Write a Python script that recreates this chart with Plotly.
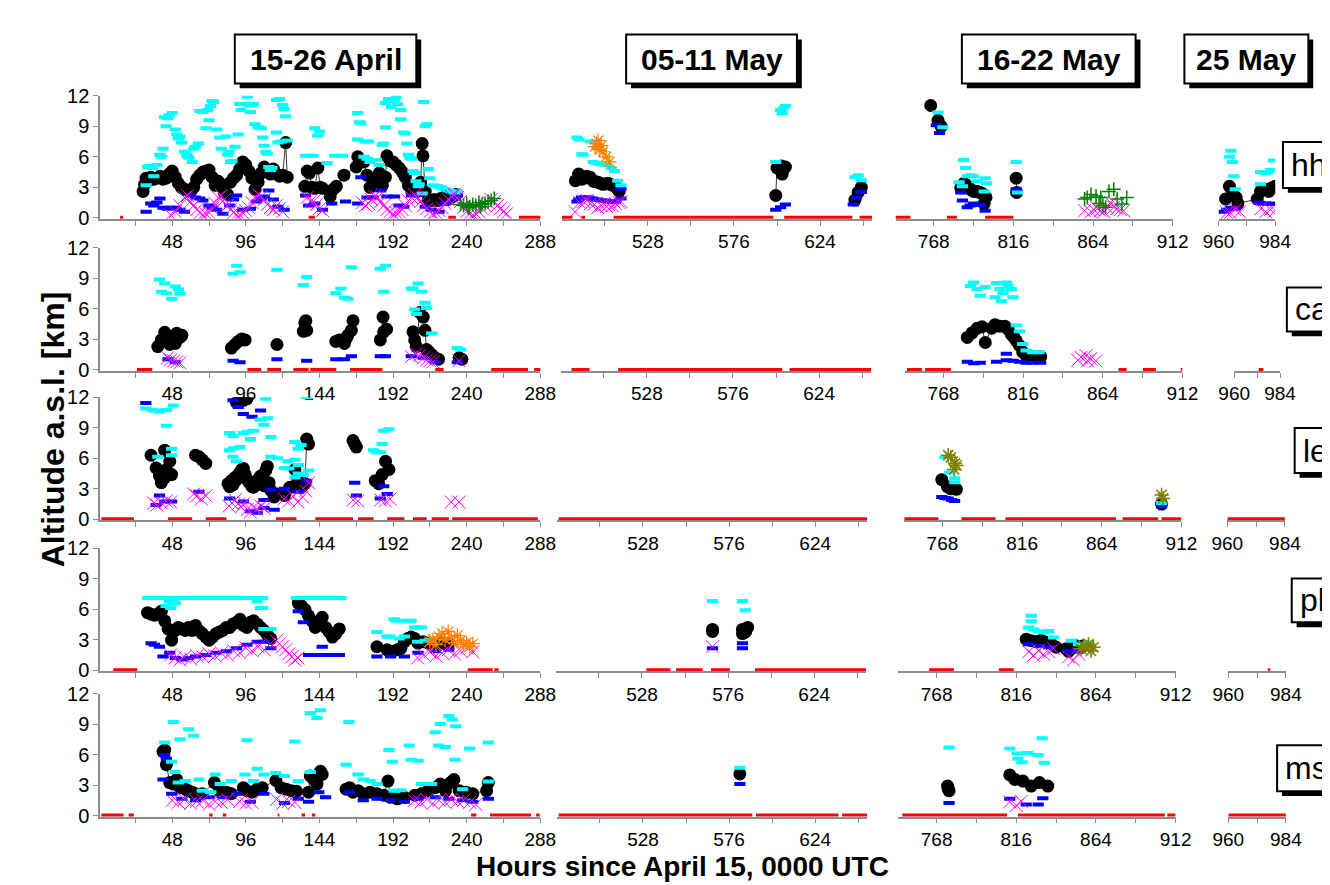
import plotly.graph_objects as go

W, H = 1330, 885
FONT = "Liberation Sans, Arial, sans-serif"

# ---------------- tick labels / ranges ----------------
COL_RANGES = [[1, 288], [480, 653], [745, 912], [960, 984]]
COL_TICKS = [
    [24, 48, 72, 96, 120, 144, 168, 192, 216, 240, 264, 288],
    [504, 528, 552, 576, 600, 624, 648],
    [768, 792, 816, 840, 864, 888, 912],
    [960, 972, 984],
]
COL_TICKTEXT = [
    ["", "48", "", "96", "", "144", "", "192", "", "240", "", "288"],
    ["", "528", "", "576", "", "624", ""],
    ["768", "", "816", "", "864", "", "912"],
    ["960", "", "984"],
]
Y_TICKS = [0, 3, 6, 9, 12]
PERIODS = ["15-26 April", "05-11 May", "16-22 May", "25 May"]
STATIONS = ["hh", "ca", "le", "pl", "ms"]

# ---------------- data: (hour, km) ----------------
# hh
hh_apr_black = [(29,2.6),(30,3.3),(31,3.9),(32,3.6),(34,4.0),(36,3.8),(38,3.9),(40,4.1),(42,3.8),(44,3.9),(46,4.3),(48,4.6),(50,4.0),(52,3.4),(54,3.0),(56,2.8),(58,2.7),(60,2.6),(62,3.0),(64,3.8),(66,4.2),(68,4.5),(70,4.6),(72,4.7),(74,4.0),(76,3.2),(78,3.6),(80,3.3),(82,2.5),(84,2.3),(86,3.5),(88,3.9),(90,4.2),(92,4.8),(94,5.5),(96,5.2),(98,4.6),(100,3.9),(102,2.8),(104,3.5),(106,4.4),(108,5.0),(110,4.6),(112,4.3),(114,4.8),(116,4.3),(118,4.1),(120,4.2),(122,7.4),(123,4.0),
                (134.5,3.1),(136,4.6),(137.5,4.4),(139,3.0),(141,2.9),(143,4.9),(144.5,3.0),(146,2.9),(151,2.1),(153,2.8),(155,3.1),(160,4.2),(168,5.0),(169,6.0),(171,5.6),(173,5.5),(175,4.2),(177,3.0),(179,3.5),(181,3.8),(183,4.4),(185,3.2),(187,4.0),(188,6.1),(190,5.6),(192,5.5),(194,5.2),(196,4.9),(198,4.5),(200,4.0),(202,3.2),(204,2.7),(206,2.9),(208,2.6),(210,3.5),(211,7.3),(211.5,6.1),(213,2.6),(215,1.8),(217,1.7),(219,1.8),(221,1.7),(223,1.9),(225,2.0),(227,1.8),(229,1.9),(231,2.1),(233,2.3)]
hh_apr_cyan = [(31,3.2),(32,5.0),(33,5.1),(35,4.9),(36,4.1),(38,5.2),(40,6.2),(41,6.0),(42,6.8),(43,9.9),(44,9.0),(45,9.8),(46,10.1),(48,10.3),(50,8.7),(51,8.2),(52,7.8),(53,8.0),(54,7.4),(56,6.5),(57.5,6.2),(58,6.0),(59,5.9),(61,5.5),(62,6.8),(63,7.0),(65,7.3),(66,10.5),(68,10.4),(70,8.8),(71,10.6),(72,9.6),(73,11.0),(74,11.5),(75,11.4),(77,8.7),(79,7.9),(80,6.8),(83,8.0),(84,6.2),(85,6.5),(86,5.5),(87,5.6),(89,7.0),(91,8.2),(92,11.2),(93,10.6),(94,11.2),(97,11.9),(98,11.1),(99,10.4),(100,11.1),(101,11.2),(102,9.2),(104,8.9),(106,8.8),(107,7.9),(108,7.1),(109,6.5),(110,6.3),(111,5.0),(112,4.7),(113,4.9),(116,8.4),(116,11.6),(117,7.4),(118,11.7),(119,7.5),(120,11.1),(121,10.7),(122,10.0),(123,7.6),
               (135,6.1),(138,6.1),(140,6.1),(141,8.8),(143,8.1),(144,8.5),(149,5.4),(154,6.1),(159,6.1),(169,10.3),(169,7.7),(170,9.4),(171,9.3),(173,6.0),(174,7.5),(175,5.8),(176,7.5),(177,5.5),(181,5.7),(183,5.2),(185,7.2),(186,7.3),(187,8.9),(187,11.3),(189,11.7),(190,11.5),(191,10.9),(193,11.7),(194,11.9),(195,11.2),(197,10.6),(197,9.7),(199,8.4),(200,8.3),(201,7.3),(202,6.2),(203,5.9),(204,5.8),(205,4.6),(206,4.4),(207,3.6),(208.5,3.1),(209,3.3),(211,2.4),(212,11.4),(213,9.0),(214,9.2),(215,4.8),(216,3.9),(218,3.2),(219.5,3.1),(221,3.1),(223,3.0),(224,2.9),(226,2.8),(228,2.7),(230,2.6),(232,2.5),(234,2.6)]
hh_apr_blue = [(31,0.6),(34,1.4),(36,1.2),(38,1.5),(40,1.9),(42,1.0),(45,0.9),(47,1.0),(50,1.0),(53,0.8),(56,0.6),(60,2.2),(63,2.0),(66,1.9),(68,1.7),(72,1.2),(74,1.0),(77,0.8),(81,0.4),(85.5,1.2),(88,1.8),(90,2.2),(94,0.8),(99,0.9),(103,1.6),(106,1.9),(108,2.1),(111,2.7),(114,1.8),(117,1.1),(121,0.8),(135,2.2),(137,1.2),(141,1.4),(146,0.8),(152,1.4),(161,1.6),(169,1.4),(171,4.0),(175,2.0),(179,2.0),(184,2.7),(188,2.1),(193,2.1),(196,1.2),(199,1.1),(204,2.2),(208,2.3),(213,1.1),(217,0.8),(222,0.6),(226,1.4),(231,1.9),(234,2.2)]
hh_apr_mag = [(47,0.3),(50,0.6),(53,1.2),(56,2.0),(58,2.2),(60,1.6),(62,1.2),(64,0.8),(66,0.5),(68,0.3),(70,0.4),(72,0.5),(74,0.9),(76,1.4),(78,2.0),(80,2.2),(82,1.8),(84,1.2),(86,0.8),(88,0.5),(90,0.3),(92,0.3),(94,0.5),(96,0.7),(98,1.0),(100,1.5),(102,2.0),(104,2.3),(106,2.1),(108,1.8),(110,1.3),(112,1.0),(114,0.8),(116,1.2),(118,0.9),(120,0.6),(136,2.0),(138,1.6),(140,1.6),(142,1.3),(144,0.9),(146,0.7),(172,1.5),(174,1.2),(176,1.4),(178,1.8),(180,2.1),(182,2.0),(184,1.6),(186,1.2),(188,0.8),(190,0.6),(192,0.4),(194,0.5),(196,0.6),(198,0.8),(200,1.2),(202,1.7),(204,2.0),(206,2.3),(208,2.0),(210,1.6),(212,1.2),(214,0.9),(216,0.6),(218,0.4),(220,0.5),(222,0.7),(224,1.0),(226,1.4),(228,1.8),(230,2.1),(232,2.3),(234,2.0),(236,1.6),(238,1.0),(240,0.6),(242,0.4),(244,0.3),(246,0.4),(248,0.6),(250,0.9),(252,1.2),(254,1.5),(256,1.8),(258,1.6),(260,1.2),(262,0.9),(264,0.6),(266,0.4)]
hh_apr_green = [(236,1.3),(238,1.2),(240,1.4),(241,1.0),(242,1.1),(244,1.3),(246,1.2),(248,1.5),(249,1.1),(250,1.3),(252,1.4),(254,1.6),(256,1.7),(258,1.9)]
hh_apr_nodata = [(14,16),(137,141),(228,233),(274,289)]

hh_may1_black = [(487.6,3.65),(489.4,4.3),(491.2,3.8),(492.5,3.9),(494,4.1),(495.8,4.0),(497.6,3.6),(499,3.55),(500.3,3.5),(501.5,3.4),(503,3.3),(504.5,3.35),(505.8,3.4),(507,3.3),(508.5,3.2),(510.3,3.0),(512,2.6),(599.3,2.2),(600,4.9),(602.5,5.1),(602.9,4.3),(604.7,5.0),(643.4,1.75),(645.2,2.5),(647,3.0)]
hh_may1_cyan = [(488.5,7.9),(489.5,7.7),(495.8,7.5),(491.2,6.25),(492,6.2),(497.6,5.5),(499,5.4),(501.2,5.3),(504.8,5.2),(507.6,4.9),(509.4,4.6),(511.2,3.65),(513,3.2),(599.3,5.5),(602,10.6),(602.9,10.3),(603.8,10.8),(604.7,11.0),(643.4,4.0),(645.2,4.2),(647,3.7)]
hh_may1_blue = [(488.5,1.6),(489.5,1.8),(491,2.0),(493,2.0),(495,2.0),(497,1.9),(498,1.8),(500,1.8),(502,1.7),(504,1.7),(506,1.6),(508,1.6),(510,1.6),(513,1.9),(513,2.85),(599.3,0.8),(602,1.05),(604.7,1.3),(642.5,1.3),(644.3,2.0),(647,2.55)]
hh_may1_mag = [(487.5,0.6),(490,1.5),(492,1.6),(494,1.7),(496,1.4),(498,1.3),(500,1.0),(502,1.2),(504,1.3),(505,1.1),(506,1.3),(508,1.2),(510,1.4),(512,1.5),(513,1.6)]
hh_may1_orange = [(498.5,7.0),(499.4,7.3),(500.3,7.6),(501.2,6.7),(502,7.1),(503,6.5),(504.8,6.0),(506.6,5.5)]
hh_may1_nodata = [(480,486),(491,493),(509,598),(604,642),(646,653)]

hh_may2_black = [(766.2,11.05),(770.6,9.6),(772.5,9.0),(784.3,2.95),(785.5,3.2),(786.2,3.4),(787.2,3.3),(788.2,3.1),(789.2,3.0),(790.2,2.8),(791.2,2.7),(792.1,2.6),(793.1,2.6),(794.1,2.6),(795,2.55),(796,2.5),(797,2.4),(798,2.3),(799.5,2.0),(798.4,1.4),(817.7,3.9),(818,2.5)]
hh_may2_cyan = [(770.6,10.35),(773.5,8.9),(783.3,3.5),(785.3,3.1),(786,5.7),(787.3,4.9),(788.2,4.1),(790,4.2),(792,4.1),(794,3.6),(799,3.9),(799.9,3.4),(798.4,2.6),(817.7,5.5),(818.5,2.5)]
hh_may2_blue = [(769.6,9.1),(771.5,8.35),(784.3,2.5),(785.3,1.7),(788.2,1.05),(790,1.2),(792,1.4),(794,1.3),(796,1.25),(799,0.7),(817.7,2.8)]
hh_may2_mag = [(858.9,0.7),(862.8,0.6),(864.5,0.8),(866.7,0.9),(868.5,0.7),(870.6,0.6),(872.5,1.0),(874.5,1.5),(876.5,1.05),(878.5,0.9),(880.5,0.8),(882.4,0.7)]
hh_may2_green = [(858.9,1.85),(860.5,2.0),(862.8,2.3),(865.8,2.15),(867.7,1.4),(868.7,2.0),(870,1.2),(871.6,1.05),(873.6,2.6),(876.5,2.8),(878.5,1.85),(881.4,1.35),(884.3,2.0)]
hh_may2_nodata = [(745,754),(776,782),(799,816)]

hh_may3_black = [(963.0,1.85),(964.6,3.1),(966,2.3),(967.5,2.0),(968.2,1.4),(976.4,1.85),(977.8,2.6),(979.9,2.8),(981.3,2.6),(982.6,2.95),(984,3.1)]
hh_may3_cyan = [(964.6,6.0),(965.2,6.6),(965.8,5.5),(966.5,4.1),(967.1,2.8),(977.8,3.3),(977.8,4.5),(979.9,4.4),(981,4.5),(982,4.7),(983.3,5.65)]
hh_may3_blue = [(962.3,0.6),(963.5,0.8),(965.2,1.0),(967.1,0.9),(977,1.5),(978.5,1.4),(979.9,1.4),(981.5,1.35),(983.3,1.4)]
hh_may3_mag = [(963.5,0.5),(965,0.5),(967,0.8),(969,0.6),(978,0.9),(980,0.6),(982,0.8),(984,0.7)]

# ca
ca_apr_black = [(38.6,2.3),(40.9,2.95),(43.1,3.7),(45.3,3.2),(46.4,2.5),(48.7,3.1),(50,2.6),(50.9,3.6),(53.1,3.2),(54.3,3.4),(86.6,2.15),(88.9,2.5),(91.1,2.8),(93.3,3.05),(95.6,2.95),(116.3,2.5),(133.5,3.8),(134.5,4.6),(135.1,4.85),(135.7,3.9),(154.7,2.8),(157,2.95),(160.3,2.6),(161.5,3.1),(162.5,3.4),(164.8,3.9),(165.9,4.85),(183.7,2.95),(185.5,5.2),(185.9,3.75),(187.8,4.0),(205,3.75),(206.1,2.95),(207.2,2.3),(209.4,5.65),(211.7,5.2),(212.8,3.9),(213.9,2.0),(215,1.85),(217.2,1.5),(219.5,1.2),(221.7,1.05),(235.1,1.2),(236.9,1.05)]
ca_apr_cyan = [(39.7,8.9),(41,7.7),(43.1,8.5),(44.2,7.55),(47.6,7.0),(50,8.2),(52,7.9),(53.1,7.5),(87.7,9.45),(90,10.25),(92.2,9.6),(116.3,9.85),(133.5,8.35),(135.7,9.15),(154.7,7.55),(158,8.0),(160.3,7.1),(162.5,7.0),(164.8,10.1),(183.7,9.95),(185.9,7.7),(187,10.25),(203.9,8.0),(205,8.0),(206.1,5.95),(207.2,5.5),(208.3,8.5),(210.6,7.7),(212.8,6.6),(213.9,6.1),(217.2,3.6),(233.9,2.15),(236.2,2.0)]
ca_apr_blue = [(45.3,1.05),(50,0.75),(87.7,0.9),(92.2,0.75),(116.3,1.05),(135.7,0.9),(154.7,1.05),(160.3,1.05),(164.8,1.35),(183.7,1.35),(187,1.35),(203.9,1.35),(211.7,1.2),(219.5,0.75),(233.9,0.75)]
ca_apr_mag = [(45,1.2),(47,1.0),(49,0.9),(51,0.8),(53,0.7),(204,1.3),(207,1.6),(209,1.4),(212,1.2),(214,1.0),(216,0.9),(218,0.8),(235,0.9)]
ca_apr_nodata = [(25,35),(97,106),(110,119),(127,137),(138,155),(164,185),(219.5,225),(256,280),(284,289)]
ca_may1_nodata = [(486,496),(512,603.4),(607.5,653)]
ca_may2_black = [(782.4,3.2),(785.3,3.65),(788.3,4.1),(791.2,4.25),(793.2,2.7),(797.1,4.1),(799.1,4.45),(802,4.3),(805,4.3),(806.9,4.0),(808.9,3.5),(810.5,3.2),(811.9,2.85),(813.8,2.4),(815.8,1.75),(817.8,1.45),(819.7,1.3),(821.7,1.3),(826.6,1.3)]
ca_may2_cyan = [(784.3,8.25),(786.2,8.6),(788.2,7.95),(790.2,7.3),(793.1,8.15),(799.1,7.15),(800,8.55),(802,7.95),(802.9,6.75),(803.9,7.55),(806,8.6),(806.9,8.25),(808.9,7.95),(809.9,7.15),(811.9,4.4),(813.8,3.8),(815.8,2.55),(817.8,1.9),(821.7,1.75),(825.6,1.75)]
ca_may2_blue = [(782.4,0.8),(786.3,0.65),(790.2,0.7),(800,0.8),(805.9,1.6),(805.9,0.95),(809.9,0.9),(813.8,0.8),(817.8,0.7),(821.7,0.7),(826.6,0.7)]
ca_may2_mag = [(848.9,0.95),(850.9,1.25),(853.9,1.4),(854.8,0.9),(856.8,1.1),(859.8,0.9)]
ca_may2_nodata = [(746,755),(757,772.5),(873.5,878.4),(888.2,896),(911,912)]
ca_may3_nodata = [(972.8,975.3)]

# le
le_apr_black = [(34.2,6.3),(37.5,5.05),(39.7,4.25),(40.9,3.6),(43.1,4.1),(43.1,6.8),(44.2,4.9),(46.4,5.7),(47.6,4.4),(63.2,6.3),(65.4,6.15),(67.6,5.85),(69.9,5.5),(84.4,3.5),(85.5,3.2),(86.6,3.8),(87.7,3.4),(88.9,4.1),(90,3.9),(91.1,4.4),(92.2,4.6),(93.3,4.9),(94.4,5.0),(95.6,4.4),(96.7,3.95),(97.8,3.7),(99,3.5),(100,3.2),(101.1,3.15),(102.3,3.5),(103.4,3.8),(104.5,4.0),(105.6,4.25),(106.7,3.8),(107.8,3.3),(109,4.8),(110,5.2),(111.2,3.6),(112.3,2.85),(114.5,2.2),(116.8,2.5),(121.2,2.35),(124.6,3.15),(128,4.9),(130.2,3.8),(132.4,3.15),(134.6,3.5),(135.7,7.9),(136.9,7.4),(165.9,7.75),(167,7.4),(168.1,7.1),(180.4,3.8),(182.6,3.5),(184.9,4.4),(187.1,5.7),(189.3,4.9)]
le_apr_black_top = [(89.9,11.5),(92,11.6),(94.4,11.7),(96.7,11.85)]
le_apr_cyan = [(30.8,10.9),(35.3,10.75),(37,10.7),(39.7,10.6),(44.2,10.75),(48.7,11.2),(44.2,9.2),(38.6,6.15),(47.6,6.95),(47.6,6.3),(85.5,8.5),(87.7,8.2),(94.4,8.5),(97,8.6),(101.1,8.7),(99,7.9),(105.6,9.8),(110,9.95),(107.8,9.3),(109,11.85),(112.3,8.1),(85.5,6.8),(88,7.0),(92.2,7.1),(87.7,6.15),(89.9,5.7),(112.3,6.15),(116.8,6.0),(123.5,5.7),(128,5.85),(130.2,5.35),(121.2,5.05),(124,5.0),(128,4.1),(130.2,4.5),(133.5,4.35),(136.9,4.8),(135.7,12.0),(128,7.6),(130.2,6.95),(132,7.3),(179.3,6.8),(181,6.6),(183.7,6.6),(185.9,8.7),(189.3,8.85),(184.9,7.4)]
le_apr_blue = [(30.8,11.45),(37.5,1.4),(39.7,2.35),(43.1,1.75),(47.6,1.75),(65.4,2.7),(85.5,2.05),(87.7,11.7),(91.1,11.05),(94.4,10.35),(94.4,1.75),(99,0.8),(100,10.1),(103.4,0.65),(105.6,10.7),(107.8,1.1),(107.8,1.9),(112.3,2.9),(114.5,0.95),(121.2,3.0),(130.2,2.7),(135.7,3.8),(167,3.6),(168.1,2.35),(183.7,2.05),(185.9,3.25),(188.2,2.5)]
le_apr_mag = [(36,1.6),(38,1.4),(41,1.6),(44,1.8),(47,1.7),(62,2.5),(64,2.3),(67,2.0),(70,2.3),(85,1.3),(87,1.6),(89,1.9),(91,1.5),(93,1.2),(95,1.6),(97,1.0),(99,0.7),(101,1.2),(103,1.0),(106,1.3),(108,1.1),(121,2.0),(124,1.8),(127,2.3),(130,1.7),(133,2.2),(135,2.8),(137,3.6),(166,1.9),(169,1.8),(184,1.9),(187,1.8),(190,2.0),(230,1.7),(235,1.7)]
le_apr_nodata = [(1.8,23),(45.3,61),(69.9,83.3),(115.6,129),(141.3,165.9),(169.2,179.3),(188.2,199.4),(205,213.9),(217.2,228.4),(230.6,286.4)]
le_may1_nodata = [(481,653)]
le_may2_black = [(767.6,3.9),(771,3.2),(773.1,3.0),(776.4,2.95),(900,1.5)]
le_may2_cyan = [(769.5,6.1),(772.4,4.6),(775.4,4.05),(775.4,3.65),(900,1.6)]
le_may2_blue = [(767.6,2.2),(769.5,2.1),(771.5,2.05),(773.5,1.9),(775.3,1.8),(900,1.25)]
le_may2_olive = [(771.5,6.3),(773,6.1),(775.5,5.5),(775,4.9),(776.5,5.3),(900,2.4),(900.9,2.05)]
le_may2_nodata = [(745,765.6),(779.4,800),(805.9,872.5),(876.5,898),(900,912)]
le_may3_nodata = [(960,984)]

# pl
pl_apr_black = [(31.9,5.65),(34.2,5.5),(36.4,5.4),(38.6,5.5),(40.9,5.8),(43.1,4.85),(45.3,4.05),(47.6,2.95),(50,3.9),(52,4.2),(54.3,4.05),(56.5,3.9),(58.7,4.2),(60.9,3.9),(63.2,4.4),(65.4,3.9),(67.6,3.6),(69.9,3.25),(72.1,2.95),(74.3,3.25),(76.6,3.6),(78.8,3.75),(81,3.9),(83.3,4.2),(85.5,4.2),(87.7,4.55),(89.9,4.7),(92.2,5.0),(94.4,4.4),(96.7,4.2),(99,4.7),(101.1,4.85),(103.4,4.55),(105.6,4.2),(107.8,3.9),(110.1,3.45),(112.3,3.1),
                (130.2,6.6),(132.4,6.3),(134.6,5.95),(136.9,5.35),(139.1,4.85),(141.3,4.2),(143.6,4.55),(145.8,5.2),(148,4.2),(150.3,3.75),(152.5,3.25),(154.7,3.6),(157,4.05),
                (181.5,2.3),(188.2,2.0),(191.5,1.85),(194.9,2.0),(197.1,2.15),(199.4,2.8),(201.6,3.1),(203.8,3.25),(206.1,3.1),(208.3,2.65),(211.7,2.8),(215,2.65),(219.5,2.5),(223.9,2.65),(228.4,2.55)]
pl_apr_cyan = [(32,7.1),(35,7.1),(38,7.1),(41,7.1),(44,7.1),(47,7.1),(50,7.1),(53,7.1),(56,7.1),(59,7.1),(62,7.1),(65,7.1),(68,7.1),(71,7.1),(74,7.1),(77,7.1),(80,7.1),(83,7.1),(86,7.1),(89,7.1),(92,7.1),(95,7.1),(98,7.1),(101,7.1),(104,7.1),(107,7.1),
               (129,7.1),(132,7.1),(135,7.1),(138,7.1),(141,7.1),(144,7.1),(147,7.1),(150,7.1),(153,7.1),(156,7.1),(158,7.1),
               (46,6.75),(48.7,6.75),(44,6.3),(47,6.1),(50,6.6),(103.4,6.75),(105.5,6.1),(107,6.1),(107.8,4.05),(110,4.05),(112.3,4.05),(181.5,3.75),(188,3.3),(190,3.3),(192.7,5.0),(194,4.85),(196,3.1),(199.4,3.3),(201,4.85),(203.8,4.85),(206,4.2),(208,4.2),(210.5,4.2),(208,2.8),(213,2.9),(216,3.0)]
pl_apr_blue = [(34.2,2.65),(36.4,2.5),(39.7,2.3),(42,1.35),(46.4,1.7),(50,1.2),(54.3,1.05),(58.7,1.2),(63.2,1.35),(69.9,1.5),(76.6,1.7),(83.3,1.85),(89.9,2.15),(96.7,2.5),(103.4,2.8),(107.8,2.8),(112.3,2.15),(130.2,5.8),(133.5,4.7),(136.9,1.5),(141.3,1.5),(145.8,2.3),(148,1.5),(152.5,1.5),(157,1.5),(181.5,1.35),(190.4,1.35),(199.4,1.35),(208.3,1.7),(219.5,1.85),(228.4,2.0)]
pl_apr_mag = [(47,1.5),(50,1.2),(53,1.0),(56,1.3),(60,1.1),(64,1.4),(68,1.3),(72,1.6),(76,1.4),(80,1.7),(84,1.5),(88,1.9),(92,1.7),(96,2.2),(100,1.9),(104,2.3),(108,2.0),(112,2.6),(116,2.9),(118,2.6),(120,2.3),(122,2.0),(124,1.6),(126,1.3),(128,1.0),(130,1.2),(208,1.2),(212,1.5),(216,1.8),(220,1.4),(224,1.7),(228,2.0),(232,1.6),(236,1.9),(240,2.2),(244,1.8)]
pl_apr_orange = [(216,2.8),(218,3.0),(220,2.5),(222,3.3),(224,3.6),(226,3.0),(228,3.8),(230,3.2),(232,2.7),(234,3.4),(236,2.9),(238,2.5),(240,2.7),(242,2.3),(244,2.6)]
pl_apr_nodata = [(9.6,25.2),(240.7,257),(258,260.8)]
pl_may1_black = [(567.3,4.0),(567.3,3.8),(584,4.0),(585.8,3.75),(586.9,4.2),(584,3.6)]
pl_may1_cyan = [(567.3,6.8),(584,6.8),(585.5,5.9)]
pl_may1_blue = [(567.3,2.15),(584,2.65),(584,2.15)]
pl_may1_mag = [(567.3,2.3)]
pl_may1_nodata = [(530.4,543.8),(547,561.8),(566.5,577),(591,653)]
pl_may2_black = [(822,3.05),(825,2.9),(828,2.8),(831,2.95),(834,2.75),(837,2.6),(840,2.25),(846,2.1),(847.5,1.85),(849,2.25),(852,2.4),(856.5,2.4)]
pl_may2_cyan = [(825,5.35),(825,4.8),(823.5,4.2),(826.5,4.0),(829.5,3.8),(832.5,3.7),(835.5,3.85),(838.5,3.2),(849,2.9),(853.5,2.55),(859.5,2.75)]
pl_may2_blue = [(823.5,2.55),(829.5,2.4),(835.5,2.25),(847.5,1.9),(853.5,1.8)]
pl_may2_mag = [(823.5,1.8),(826.5,1.45),(829.5,1.9),(832.5,1.55),(835.5,1.8),(838.5,2.1),(847.5,1.3),(850.5,1.0),(853.5,1.6),(858,2.1)]
pl_may2_olive = [(855,2.1),(856.5,2.4),(859.5,2.55),(861,1.9),(862.5,2.25)]
pl_may2_nodata = [(763.5,778.5),(805.5,814.5)]
pl_may3_nodata = [(976.5,977.5)]

# ms
ms_apr_black = [(42,6.3),(43.1,6.45),(44.2,5.0),(46.4,3.25),(48.7,3.1),(50.9,3.55),(53.1,2.75),(56.5,2.6),(58.7,2.45),(61,2.3),(63.2,2.15),(67.6,2.15),(75.5,3.25),(78.8,2.45),(83.3,2.3),(86.6,2.15),(94.4,2.75),(96.7,2.45),(100,2.3),(103.4,2.6),(106.7,2.75),(115.6,3.45),(119,2.75),(122.3,2.6),(125.7,2.45),(129,2.4),(136.9,2.3),(138,3.9),(140.2,3.55),(142.4,3.1),(144.7,4.35),(145.8,4.05),
                (161.4,2.6),(163.7,2.75),(165.9,2.3),(169.2,2.45),(172.6,2.15),(177,2.3),(181.5,2.15),(186,2.0),(188.7,3.4),(190.4,1.8),(194.9,1.65),(199.4,1.8),(206.1,2.0),(210.5,2.15),(215,2.45),(219.5,2.75),(222.8,3.1),(226.2,2.45),(229.5,3.25),(231.7,3.55),(235.1,2.45),(239.6,2.3),(244,2.15),(253,2.45),(254.1,3.25)]
ms_apr_cyan = [(43.1,7.2),(48.7,9.2),(47.6,5.3),(49.8,4.3),(53.1,7.5),(58.7,8.5),(62,7.85),(52,3.25),(56.5,3.4),(65.4,3.55),(67.6,2.45),(73.2,2.3),(76.1,4.05),(79.3,3.1),(86.6,3.4),(96.7,7.4),(95.5,4.05),(101.1,3.4),(103.4,4.6),(107.8,4.05),(115.6,4.2),(121.2,3.9),(128,7.3),(130.2,3.4),(138,10.1),(142.4,9.6),(144.7,10.35),(138,4.3),(161.4,5.0),(163.2,9.2),(169.2,4.05),(172.6,3.55),(177,3.4),(181.5,3.1),(189.3,6.45),(191.5,5.3),(192.7,2.45),(197.1,2.5),(202.6,6.9),(203.8,5.5),(208.3,5.4),(210.5,3.1),(217.2,3.1),(219.5,8.2),(222.8,9.0),(221.7,6.9),(226.2,6.75),(228.4,9.8),(230.6,9.45),(232.9,8.8),(232.4,5.5),(237.4,2.6),(241.9,6.6),(254.1,7.2),(254.1,3.35)]
ms_apr_blue = [(42,3.55),(43.1,5.95),(44.2,5.6),(47.6,2.15),(54.3,1.65),(63.2,1.5),(72.1,1.8),(81,1.8),(89.9,2.15),(98.9,1.35),(107.8,2.15),(121.2,1.25),(130.2,1.65),(136.9,1.35),(143.6,2.3),(148,1.8),(163.7,2.3),(172.6,1.5),(181.5,1.65),(190.4,1.5),(199.4,1.35),(208.3,1.65),(219.5,1.8),(228.4,1.65),(237.4,1.5),(244,1.35),(254.1,1.65)]
ms_apr_mag = [(48,1.5),(52,1.3),(56,1.6),(60,1.2),(64,1.4),(68,1.5),(72,1.1),(76,1.4),(80,1.3),(84,1.6),(92,1.4),(96,1.2),(100,1.3),(116,1.6),(120,1.2),(124,1.4),(128,1.3),(206,1.5),(210,1.3),(214,1.6),(218,1.2),(222,1.5),(226,1.3),(230,1.6),(234,1.4),(238,1.5),(242,1.3),(246,1.1)]
ms_apr_nodata = [(1.8,16.3),(19.6,23),(72.1,74.3),(81,83.3),(116.8,117.9),(132.4,134.6),(139.1,141.3),(242.9,246.3),(255.2,282),(285.3,287.6)]
ms_may1_black = [(582,4.1)]
ms_may1_cyan = [(582,4.7)]
ms_may1_blue = [(582,3.1)]
ms_may1_nodata = [(481,589),(591,637),(639,653)]
ms_may2_black = [(774.6,2.9),(775.5,2.45),(775,2.6),(812.1,4.0),(815.1,3.55),(820,3.4),(825,2.9),(830,3.25),(835,2.9)]
ms_may2_cyan = [(775.5,6.7),(812.1,6.6),(816.6,6.1),(817,5.6),(819.4,5.25),(823,6.15),(829,5.95),(831.6,7.6),(832.9,5.2)]
ms_may2_blue = [(775.5,1.25),(812.1,1.65),(822,1.1),(829.2,1.1),(832,1.7)]
ms_may2_mag = [(812,1.35),(816,1.0),(819,1.4)]
ms_may2_nodata = [(747.3,810.5),(817,905.5),(907,912)]
ms_may3_nodata = [(960,984)]

# ---------------- panel registry ----------------
PANELS = {
    (0, 0): dict(black=hh_apr_black, blue=hh_apr_blue, cyan=hh_apr_cyan, mag=hh_apr_mag, green=hh_apr_green, nodata=hh_apr_nodata),
    (0, 1): dict(black=hh_may1_black, blue=hh_may1_blue, cyan=hh_may1_cyan, mag=hh_may1_mag, orange=hh_may1_orange, nodata=hh_may1_nodata),
    (0, 2): dict(black=hh_may2_black, blue=hh_may2_blue, cyan=hh_may2_cyan, mag=hh_may2_mag, green=hh_may2_green, nodata=hh_may2_nodata),
    (0, 3): dict(black=hh_may3_black, blue=hh_may3_blue, cyan=hh_may3_cyan, mag=hh_may3_mag),
    (1, 0): dict(black=ca_apr_black, blue=ca_apr_blue, cyan=ca_apr_cyan, mag=ca_apr_mag, nodata=ca_apr_nodata),
    (1, 1): dict(nodata=ca_may1_nodata),
    (1, 2): dict(black=ca_may2_black, blue=ca_may2_blue, cyan=ca_may2_cyan, mag=ca_may2_mag, nodata=ca_may2_nodata),
    (1, 3): dict(nodata=ca_may3_nodata),
    (2, 0): dict(black=le_apr_black, black2=le_apr_black_top, blue=le_apr_blue, cyan=le_apr_cyan, mag=le_apr_mag, nodata=le_apr_nodata),
    (2, 1): dict(nodata=le_may1_nodata),
    (2, 2): dict(black=le_may2_black, blue=le_may2_blue, cyan=le_may2_cyan, olive=le_may2_olive, nodata=le_may2_nodata),
    (2, 3): dict(nodata=le_may3_nodata),
    (3, 0): dict(black=pl_apr_black, blue=pl_apr_blue, cyan=pl_apr_cyan, mag=pl_apr_mag, orange=pl_apr_orange, nodata=pl_apr_nodata),
    (3, 1): dict(black=pl_may1_black, blue=pl_may1_blue, cyan=pl_may1_cyan, mag=pl_may1_mag, nodata=pl_may1_nodata),
    (3, 2): dict(black=pl_may2_black, blue=pl_may2_blue, cyan=pl_may2_cyan, mag=pl_may2_mag, olive=pl_may2_olive, nodata=pl_may2_nodata),
    (3, 3): dict(nodata=pl_may3_nodata),
    (4, 0): dict(black=ms_apr_black, blue=ms_apr_blue, cyan=ms_apr_cyan, mag=ms_apr_mag, nodata=ms_apr_nodata),
    (4, 1): dict(black=ms_may1_black, blue=ms_may1_blue, cyan=ms_may1_cyan, nodata=ms_may1_nodata),
    (4, 2): dict(black=ms_may2_black, blue=ms_may2_blue, cyan=ms_may2_cyan, mag=ms_may2_mag, nodata=ms_may2_nodata),
    (4, 3): dict(nodata=ms_may3_nodata),
}

# ---------------- geometry (pixels) ----------------
ROW_BASE = [204.7, 360.5, 513.5, 668.0, 817.0]
ROW_H = 126
COL_LEFT = [[78, 78, 78, 78, 78], [551, 550, 546, 545, 546],
            [893, 903, 902, 896, 896], [1224, 1240, 1233, 1234, 1234]]
COL_W = [[451, 451, 451, 451, 451], [318, 318, 318, 318, 318],
         [284, 284, 284, 284, 284], [58, 47, 59, 59, 59]]
GRAY = "#8c8c8c"

STYLE = {
    "blue":   dict(symbol="line-ew", size=8, color="#0000ff", lw=4),
    "cyan":   dict(symbol="line-ew", size=8, color="#00ffff", lw=4),
    "mag":    dict(symbol="x-thin", size=13, color="#ff00ff", lw=1),
    "orange": dict(symbol="asterisk", size=12, color="#ff8000", lw=1.2),
    "green":  dict(symbol="cross-thin", size=10, color="#008000", lw=1.5),
    "olive":  dict(symbol="asterisk", size=12, color="#808000", lw=1.5),
}


def px_x(p):
    return p / W


def px_y(p):
    return 1 - p / H


def with_gaps(pts, gap=10):
    xs, ys, prev = [], [], None
    for x, y in pts:
        if prev is not None and abs(x - prev) > gap:
            xs.append(None)
            ys.append(None)
        xs.append(x)
        ys.append(y)
        prev = x
    return xs, ys


fig = go.Figure()
layout = dict()

for r in range(5):
    for c in range(4):
        n = r * 4 + c + 1
        xa, ya = f"x{n}", f"y{n}"
        xkey = "xaxis" if n == 1 else f"xaxis{n}"
        ykey = "yaxis" if n == 1 else f"yaxis{n}"
        left = COL_LEFT[c][r]
        layout[xkey] = dict(
            domain=[px_x(left), px_x(left + COL_W[c][r])], range=COL_RANGES[c],
            anchor=ya, showgrid=False, zeroline=False, showline=True,
            linecolor=GRAY, linewidth=1.5, ticks="outside", ticklen=5,
            tickwidth=1.2, tickcolor=GRAY, tickmode="array",
            tickvals=COL_TICKS[c], ticktext=COL_TICKTEXT[c],
            tickfont=dict(family=FONT, size=19, color="black"), fixedrange=True)
        ydom = [px_y(ROW_BASE[r]), px_y(ROW_BASE[r] - ROW_H)]
        if c == 0:
            layout[ykey] = dict(
                domain=ydom, range=[-0.1, 12], anchor=xa, showgrid=False,
                zeroline=False, showline=True, linecolor=GRAY, linewidth=1.5,
                ticks="outside", ticklen=5, tickwidth=1.2, tickcolor=GRAY,
                tickmode="array", tickvals=Y_TICKS,
                tickfont=dict(family=FONT, size=20, color="black"), fixedrange=True)
        else:
            layout[ykey] = dict(domain=ydom, range=[-0.1, 12], anchor=xa,
                                visible=False, fixedrange=True)

        p = PANELS.get((r, c), {})
        for key in ("black", "black2"):
            if key in p:
                xs, ys = with_gaps(p[key])
                fig.add_trace(go.Scatter(
                    x=xs, y=ys, xaxis=xa, yaxis=ya, mode="lines+markers",
                    line=dict(color="black", width=0.8),
                    marker=dict(color="black", size=13), showlegend=False,
                    hoverinfo="skip"))
        for key in ("blue", "cyan", "mag", "orange", "green", "olive"):
            if key in p:
                s = STYLE[key]
                fig.add_trace(go.Scatter(
                    x=[a for a, b in p[key]], y=[b for a, b in p[key]],
                    xaxis=xa, yaxis=ya, mode="markers",
                    marker=dict(symbol=s["symbol"], size=s["size"], color=s["color"],
                                line=dict(color=s["color"], width=s["lw"])),
                    showlegend=False, hoverinfo="skip"))
        if "nodata" in p:
            xs, ys = [], []
            for a, b in p["nodata"]:
                xs += [a, b, None]
                ys += [0, 0, None]
            fig.add_trace(go.Scatter(
                x=xs, y=ys, xaxis=xa, yaxis=ya, mode="lines",
                line=dict(color="#ff0000", width=4), showlegend=False,
                hoverinfo="skip"))

shapes, annos = [], []


def box(x0, y0, x1, y1, sh=5):
    shapes.append(dict(type="rect", xref="paper", yref="paper",
                       x0=px_x(x0 + sh), x1=px_x(x1 + sh), y0=px_y(y1 + sh), y1=px_y(y0 + sh),
                       fillcolor="black", line=dict(width=0), layer="above"))
    shapes.append(dict(type="rect", xref="paper", yref="paper",
                       x0=px_x(x0), x1=px_x(x1), y0=px_y(y1), y1=px_y(y0),
                       fillcolor="white", line=dict(color="black", width=2), layer="above"))


PERIOD_BOX = [(216, 402), (617, 792), (961, 1139), (1189, 1316)]
for (x0, x1), txt in zip(PERIOD_BOX, PERIODS):
    box(x0, 16, x1, 66)
    annos.append(dict(text=txt, xref="paper", yref="paper", x=px_x((x0 + x1) / 2),
                      y=px_y(41), xanchor="center", yanchor="middle", showarrow=False,
                      font=dict(family=FONT, size=30, color="black", weight="bold")))

STATION_BOX = [(1290, 126, 173), (1294, 275, 320), (1302, 419, 465), (1299, 573, 618), (1284, 744, 791)]
for (x0, y0, y1), txt in zip(STATION_BOX, STATIONS):
    box(x0, y0, 1400, y1)
    annos.append(dict(text=txt, xref="paper", yref="paper", x=px_x(x0 + 6),
                      y=px_y((y0 + y1) / 2), xanchor="left", yanchor="middle",
                      showarrow=False, font=dict(family=FONT, size=32, color="black")))

annos.append(dict(text="Hours since April 15, 0000 UTC", xref="paper", yref="paper",
                  x=px_x(675), y=px_y(868), xanchor="center", yanchor="middle",
                  showarrow=False, font=dict(family=FONT, size=28, color="black", weight="bold")))
annos.append(dict(text="Altitude a.s.l. [km]", xref="paper", yref="paper",
                  x=px_x(30), y=px_y(420), xanchor="center", yanchor="middle",
                  textangle=-90, showarrow=False,
                  font=dict(family=FONT, size=32, color="black", weight="bold")))

layout.update(dict(width=W, height=H, margin=dict(l=0, r=0, t=0, b=0),
                   paper_bgcolor="white", plot_bgcolor="white",
                   shapes=shapes, annotations=annos, showlegend=False))
fig.update_layout(**layout)
fig.write_html("out.html", config={"displayModeBar": False})
